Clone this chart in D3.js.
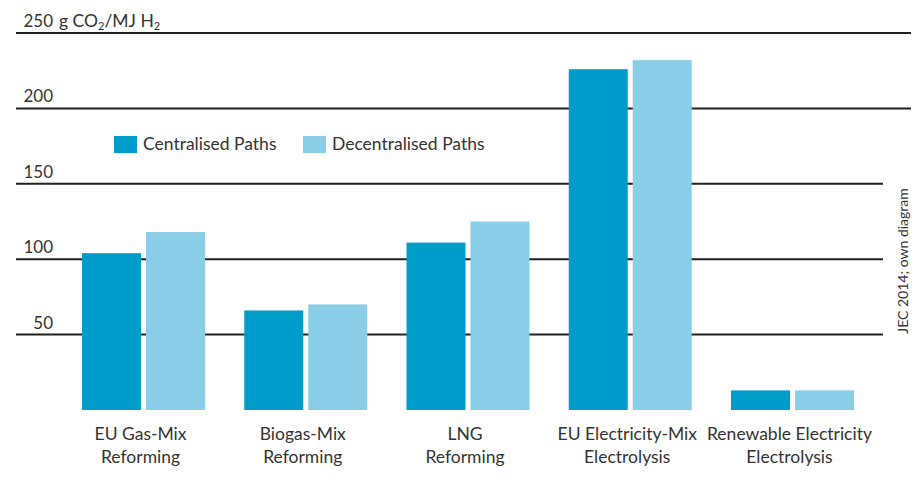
<!DOCTYPE html>
<html>
<head>
<meta charset="utf-8">
<script src="https://cdn.jsdelivr.net/npm/d3@7"></script>
<style>
  body { margin: 0; background: #fff; }
  text { font-family: Lato, "Open Sans", sans-serif; fill: #333; }
</style>
</head>
<body>
<div id="chart"></div>
<script>
// data
const categories = [
  ["EU Gas-Mix", "Reforming"],
  ["Biogas-Mix", "Reforming"],
  ["LNG", "Reforming"],
  ["EU Electricity-Mix", "Electrolysis"],
  ["Renewable Electricity", "Electrolysis"]
];
const seriesNames = ["Centralised Paths", "Decentralised Paths"];
const centralised = [104, 66, 111, 226, 13];
const decentralised = [118, 70, 125, 232, 13];
const yTicks = [50, 100, 150, 200, 250];
const colors = ["#009cca", "#89cde6"];

const width = 919, height = 502;

const svg = d3.select("#chart")
  .append("svg")
    .attr("width", width)
    .attr("height", height);

const catKeys = categories.map(d => d.join(" "));

// group scale
const x = d3.scaleBand()
  .domain(catKeys)
  .range([62.4, 873.6])
  .paddingInner(0.242)
  .paddingOuter(0.121);

const x1 = d3.scaleBand()
  .domain(seriesNames)
  .range([0, x.bandwidth()])
  .paddingInner(0.078);

const y = d3.scaleLinear()
  .domain([0, 250])
  .range([410, 33]);

// grid lines
svg.append("g")
  .selectAll("line")
  .data(yTicks)
  .join("line")
    .attr("x1", 16)
    .attr("x2", d => d >= 200 ? 911 : 883)
    .attr("y1", d => y(d))
    .attr("y2", d => y(d))
    .attr("stroke", "#231f20")
    .attr("stroke-width", 2);

// tick labels
svg.append("g")
  .selectAll("text")
  .data(yTicks)
  .join("text")
    .attr("x", 53)
    .attr("y", d => y(d) - 6)
    .attr("text-anchor", "end")
    .style("font-size", "17px")
    .text(d => d);

// unit next to top tick
const unit = svg.append("text")
  .attr("x", 59)
  .attr("y", y(250) - 6)
  .style("font-size", "17.5px");
unit.append("tspan").text("g CO");
unit.append("tspan").attr("dy", 3).style("font-size", "11px").text("2");
unit.append("tspan").attr("dy", -3).text("/MJ H");
unit.append("tspan").attr("dy", 3).style("font-size", "11px").text("2");

// bars
const rows = catKeys.map((k, i) => ({key: k, values: [centralised[i], decentralised[i]]}));

svg.append("g")
  .selectAll("g")
  .data(rows)
  .join("g")
    .attr("transform", d => `translate(${x(d.key)},0)`)
  .selectAll("rect")
  .data(d => d.values.map((v, j) => ({name: seriesNames[j], value: v, j: j})))
  .join("rect")
    .attr("x", d => x1(d.name))
    .attr("y", d => y(d.value))
    .attr("width", x1.bandwidth())
    .attr("height", d => y(0) - y(d.value))
    .attr("fill", d => colors[d.j]);

// category labels
const lab = svg.append("g")
  .selectAll("text")
  .data(categories)
  .join("text")
    .attr("text-anchor", "middle")
    .attr("transform", (d, i) => `translate(${x(catKeys[i]) + x.bandwidth() / 2 - 3},0)`)
    .style("font-size", "17.5px");
lab.selectAll("tspan")
  .data(d => d)
  .join("tspan")
    .attr("x", 0)
    .attr("y", (d, i) => 440 + i * 23)
    .text(d => d);

// legend
const legendX = [114, 303];
const leg = svg.append("g")
  .selectAll("g")
  .data(seriesNames)
  .join("g")
    .attr("transform", (d, i) => `translate(${legendX[i]},136)`);
leg.append("rect")
  .attr("width", 23)
  .attr("height", 17)
  .attr("fill", (d, i) => colors[i]);
leg.append("text")
  .attr("x", 29)
  .attr("y", 14)
  .style("font-size", "17.5px")
  .text(d => d);

// source note
svg.append("text")
  .attr("transform", "translate(908,261) rotate(-90)")
  .attr("text-anchor", "middle")
  .style("font-size", "14px")
  .text("JEC 2014; own diagram");
</script>
</body>
</html>
